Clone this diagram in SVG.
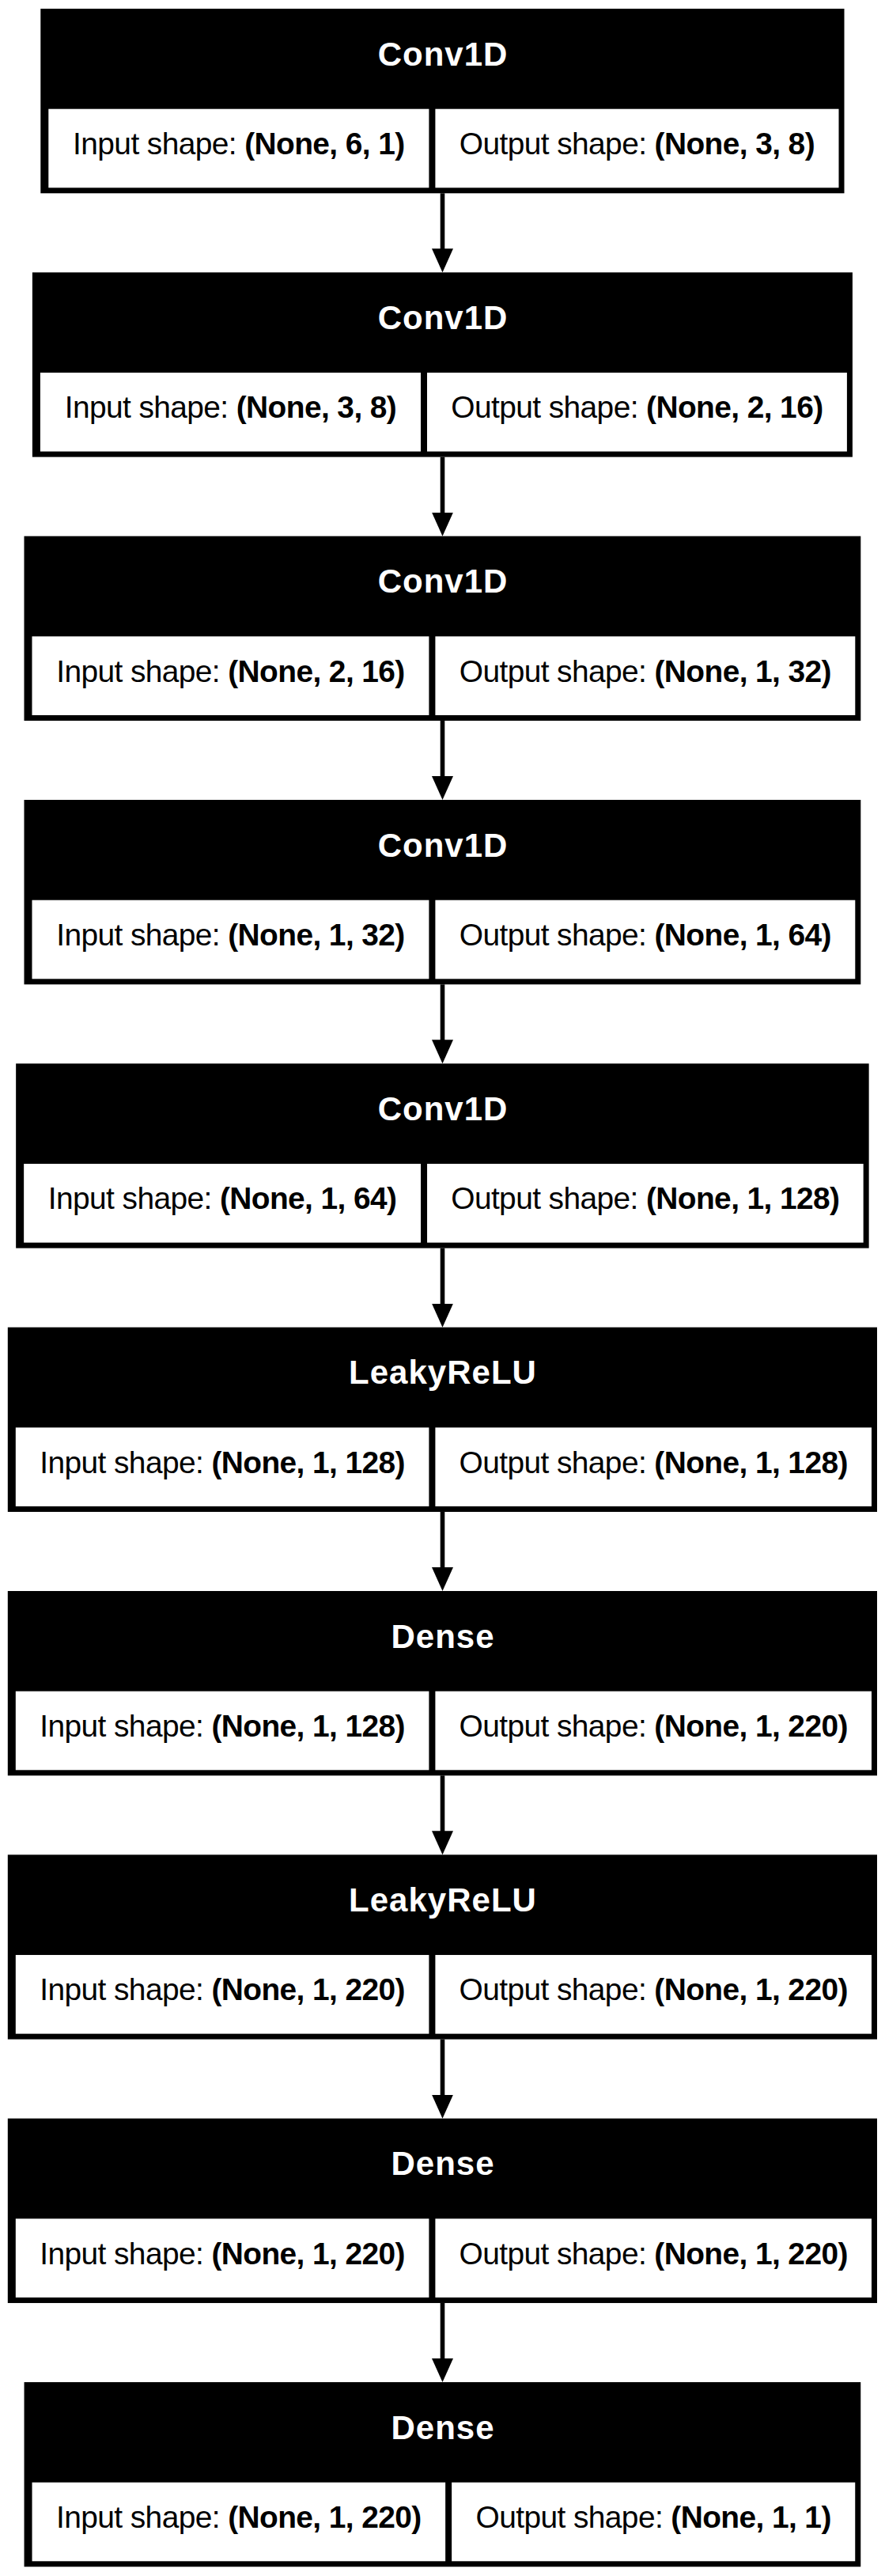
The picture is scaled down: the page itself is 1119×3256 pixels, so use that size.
<svg xmlns="http://www.w3.org/2000/svg" width="1119" height="3256" viewBox="0 0 1119 3256">
<style>
.bg{fill:#ffffff}
.box{fill:#000000}
.cell{fill:#ffffff}
.hd{font-family:"Liberation Sans",Arial,sans-serif;font-size:42px;font-weight:bold;fill:#ffffff;text-anchor:middle;letter-spacing:1px}
.tx{font-family:"Liberation Sans",Arial,sans-serif;font-size:38.9px;fill:#000000;text-anchor:middle;letter-spacing:-0.6px}
.b{font-weight:bold}
.edge{stroke:#000000;stroke-width:5.6;fill:none}
</style>
<defs>
<marker id="arr" markerUnits="userSpaceOnUse" markerWidth="30" markerHeight="27" refX="10" refY="13.5" orient="auto">
<path d="M0,0 L30,13.5 L0,27 z" fill="#000000"/>
</marker>
</defs>
<rect class="bg" x="0" y="0" width="1119" height="3256"/>
<g id="connectors">
<line class="edge" x1="559.5" y1="244.3" x2="559.5" y2="324.33" marker-end="url(#arr)"/>
<line class="edge" x1="559.5" y1="577.63" x2="559.5" y2="657.67" marker-end="url(#arr)"/>
<line class="edge" x1="559.5" y1="910.97" x2="559.5" y2="991" marker-end="url(#arr)"/>
<line class="edge" x1="559.5" y1="1244.3" x2="559.5" y2="1324.33" marker-end="url(#arr)"/>
<line class="edge" x1="559.5" y1="1577.63" x2="559.5" y2="1657.67" marker-end="url(#arr)"/>
<line class="edge" x1="559.5" y1="1910.97" x2="559.5" y2="1991" marker-end="url(#arr)"/>
<line class="edge" x1="559.5" y1="2244.3" x2="559.5" y2="2324.33" marker-end="url(#arr)"/>
<line class="edge" x1="559.5" y1="2577.63" x2="559.5" y2="2657.67" marker-end="url(#arr)"/>
<line class="edge" x1="559.5" y1="2910.97" x2="559.5" y2="2991" marker-end="url(#arr)"/>
</g>
<g id="node1">
<rect class="box" x="51.3" y="11" width="1016.2" height="233.3"/>
<rect class="cell" x="61.3" y="137.7" width="481.1" height="99.6"/>
<rect class="cell" x="550.4" y="137.7" width="510.1" height="99.6"/>
<text class="hd" x="560" y="82.5">Conv1D</text>
<text class="tx" x="301.85" y="195">Input shape: <tspan class="b">(None, 6, 1)</tspan></text>
<text class="tx" x="805.45" y="195">Output shape: <tspan class="b">(None, 3, 8)</tspan></text>
</g>
<g id="node2">
<rect class="box" x="40.9" y="344.33" width="1037" height="233.3"/>
<rect class="cell" x="50.9" y="471.03" width="481.1" height="99.6"/>
<rect class="cell" x="540" y="471.03" width="530.9" height="99.6"/>
<text class="hd" x="560" y="415.83">Conv1D</text>
<text class="tx" x="291.45" y="528.33">Input shape: <tspan class="b">(None, 3, 8)</tspan></text>
<text class="tx" x="805.45" y="528.33">Output shape: <tspan class="b">(None, 2, 16)</tspan></text>
</g>
<g id="node3">
<rect class="box" x="30.5" y="677.67" width="1057.8" height="233.3"/>
<rect class="cell" x="40.5" y="804.37" width="501.9" height="99.6"/>
<rect class="cell" x="550.4" y="804.37" width="530.9" height="99.6"/>
<text class="hd" x="560" y="749.17">Conv1D</text>
<text class="tx" x="291.45" y="861.67">Input shape: <tspan class="b">(None, 2, 16)</tspan></text>
<text class="tx" x="815.85" y="861.67">Output shape: <tspan class="b">(None, 1, 32)</tspan></text>
</g>
<g id="node4">
<rect class="box" x="30.5" y="1011" width="1057.8" height="233.3"/>
<rect class="cell" x="40.5" y="1137.7" width="501.9" height="99.6"/>
<rect class="cell" x="550.4" y="1137.7" width="530.9" height="99.6"/>
<text class="hd" x="560" y="1082.5">Conv1D</text>
<text class="tx" x="291.45" y="1195">Input shape: <tspan class="b">(None, 1, 32)</tspan></text>
<text class="tx" x="815.85" y="1195">Output shape: <tspan class="b">(None, 1, 64)</tspan></text>
</g>
<g id="node5">
<rect class="box" x="20.15" y="1344.33" width="1078.5" height="233.3"/>
<rect class="cell" x="30.15" y="1471.03" width="501.9" height="99.6"/>
<rect class="cell" x="540.05" y="1471.03" width="551.6" height="99.6"/>
<text class="hd" x="560" y="1415.83">Conv1D</text>
<text class="tx" x="281.1" y="1528.33">Input shape: <tspan class="b">(None, 1, 64)</tspan></text>
<text class="tx" x="815.85" y="1528.33">Output shape: <tspan class="b">(None, 1, 128)</tspan></text>
</g>
<g id="node6">
<rect class="box" x="9.8" y="1677.67" width="1099.2" height="233.3"/>
<rect class="cell" x="19.8" y="1804.37" width="522.6" height="99.6"/>
<rect class="cell" x="550.4" y="1804.37" width="551.6" height="99.6"/>
<text class="hd" x="560" y="1749.17">LeakyReLU</text>
<text class="tx" x="281.1" y="1861.67">Input shape: <tspan class="b">(None, 1, 128)</tspan></text>
<text class="tx" x="826.2" y="1861.67">Output shape: <tspan class="b">(None, 1, 128)</tspan></text>
</g>
<g id="node7">
<rect class="box" x="9.8" y="2011" width="1099.2" height="233.3"/>
<rect class="cell" x="19.8" y="2137.7" width="522.6" height="99.6"/>
<rect class="cell" x="550.4" y="2137.7" width="551.6" height="99.6"/>
<text class="hd" x="560" y="2082.5">Dense</text>
<text class="tx" x="281.1" y="2195">Input shape: <tspan class="b">(None, 1, 128)</tspan></text>
<text class="tx" x="826.2" y="2195">Output shape: <tspan class="b">(None, 1, 220)</tspan></text>
</g>
<g id="node8">
<rect class="box" x="9.8" y="2344.33" width="1099.2" height="233.3"/>
<rect class="cell" x="19.8" y="2471.03" width="522.6" height="99.6"/>
<rect class="cell" x="550.4" y="2471.03" width="551.6" height="99.6"/>
<text class="hd" x="560" y="2415.83">LeakyReLU</text>
<text class="tx" x="281.1" y="2528.33">Input shape: <tspan class="b">(None, 1, 220)</tspan></text>
<text class="tx" x="826.2" y="2528.33">Output shape: <tspan class="b">(None, 1, 220)</tspan></text>
</g>
<g id="node9">
<rect class="box" x="9.8" y="2677.67" width="1099.2" height="233.3"/>
<rect class="cell" x="19.8" y="2804.37" width="522.6" height="99.6"/>
<rect class="cell" x="550.4" y="2804.37" width="551.6" height="99.6"/>
<text class="hd" x="560" y="2749.17">Dense</text>
<text class="tx" x="281.1" y="2861.67">Input shape: <tspan class="b">(None, 1, 220)</tspan></text>
<text class="tx" x="826.2" y="2861.67">Output shape: <tspan class="b">(None, 1, 220)</tspan></text>
</g>
<g id="node10">
<rect class="box" x="30.55" y="3011" width="1057.7" height="233.3"/>
<rect class="cell" x="40.55" y="3137.7" width="522.6" height="99.6"/>
<rect class="cell" x="571.15" y="3137.7" width="510.1" height="99.6"/>
<text class="hd" x="560" y="3082.5">Dense</text>
<text class="tx" x="301.85" y="3195">Input shape: <tspan class="b">(None, 1, 220)</tspan></text>
<text class="tx" x="826.2" y="3195">Output shape: <tspan class="b">(None, 1, 1)</tspan></text>
</g>
</svg>
